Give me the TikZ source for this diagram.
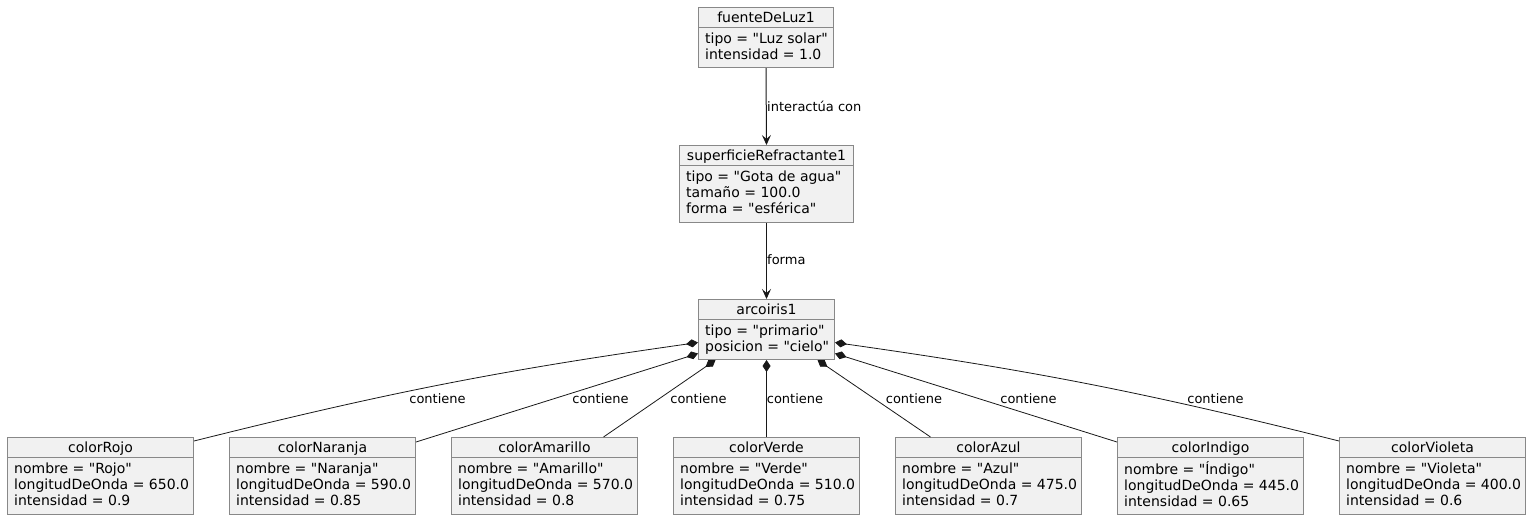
\documentclass[tikz,border=0pt]{standalone}
\usepackage{fontspec}
\setmainfont{DejaVu Sans}[Ligatures=TeXOff]
\usetikzlibrary{arrows.meta}

\definecolor{objfill}{HTML}{F1F1F1}
\definecolor{objborder}{HTML}{888888}
\definecolor{edgecol}{HTML}{181818}

\tikzset{
    objbox/.style={draw=objborder, fill=objfill, line width=1pt, rectangle, inner sep=0pt, anchor=north west},
    objrule/.style={draw=objborder, line width=1pt},
    objtitle/.style={anchor=base, inner sep=0pt, font=\fontsize{14}{16}\selectfont},
    objattrs/.style={anchor=north west, inner sep=0pt, align=left, font=\fontsize{14}{16}\selectfont},
    lbl/.style={inner sep=1pt, font=\fontsize{13}{15}\selectfont},
    assoc/.style={draw=edgecol, line width=1pt, -{Stealth[length=10pt,width=9pt,inset=4pt]}},
    comp/.style={draw=edgecol, line width=0.8pt, {Diamond[length=12pt,width=8pt]}-}
}

% name, x, y, width, height, title, attributes
\newcommand{\umlobject}[7]{%
    \node[objbox, minimum width=#4, minimum height=#5] (#1) at (#2,#3) {};
    \draw[objrule] ([yshift=-20]#1.north west) -- ([yshift=-20]#1.north east);
    \node[objtitle] (#1-title) at ([yshift=-15.5]#1.north) {#6};
    \node[objattrs] (#1-attrs) at ([xshift=7,yshift=-24.8]#1.north west) {\strut #7};
}

\begin{document}
\begin{tikzpicture}[x=1pt, y=-1pt]
    \useasboundingbox (0,0) rectangle (1531,520);

    \umlobject{fuente}{698}{7}{135}{60}{fuenteDeLuz1}{tipo = "Luz solar"\\intensidad = 1.0}
    \umlobject{superficie}{679}{145}{174}{77}{superficieRefractante1}{tipo = "Gota de agua"\\tamaño = 100.0\\forma = "esférica"}
    \umlobject{arcoiris}{698}{299}{136}{60}{arcoiris1}{tipo = "primario"\\posicion = "cielo"}

    \umlobject{rojo}{7}{437}{186}{77}{colorRojo}{nombre = "Rojo"\\longitudDeOnda = 650.0\\intensidad = 0.9}
    \umlobject{naranja}{229}{437}{186}{77}{colorNaranja}{nombre = "Naranja"\\longitudDeOnda = 590.0\\intensidad = 0.85}
    \umlobject{amarillo}{451}{437}{186}{77}{colorAmarillo}{nombre = "Amarillo"\\longitudDeOnda = 570.0\\intensidad = 0.8}
    \umlobject{verde}{673}{437}{186}{77}{colorVerde}{nombre = "Verde"\\longitudDeOnda = 510.0\\intensidad = 0.75}
    \umlobject{azul}{895}{437}{186}{77}{colorAzul}{nombre = "Azul"\\longitudDeOnda = 475.0\\intensidad = 0.7}
    \umlobject{indigo}{1117}{437}{186}{77}{colorIndigo}{nombre = "Índigo"\\longitudDeOnda = 445.0\\intensidad = 0.65}
    \umlobject{violeta}{1339}{437}{186}{77}{colorVioleta}{nombre = "Violeta"\\longitudDeOnda = 400.0\\intensidad = 0.6}

    % associations
    \draw[assoc] (fuente.south) -- (superficie.north);
    \node[lbl, anchor=west] (l-interact) at (766,106) {interactúa con};
    \draw[assoc] (superficie.south) -- (arcoiris.north);
    \node[lbl, anchor=west] (l-forma) at (766,260) {forma};

    % compositions
    \draw[comp] ([yshift=-13]arcoiris.west) to[bend right=3] ([yshift=-4]rojo.north east);
    \draw[comp] ([yshift=-24]arcoiris.west) -- ([yshift=-5]naranja.north east);
    \draw[comp] ([xshift=-51]arcoiris.south) -- ([xshift=59]amarillo.north);
    \draw[comp] (arcoiris.south) -- (verde.north);
    \draw[comp] ([xshift=51]arcoiris.south) -- ([xshift=-58]azul.north);
    \draw[comp] ([yshift=-24]arcoiris.east) -- ([yshift=-5]indigo.north west);
    \draw[comp] ([yshift=-13]arcoiris.east) to[bend left=3] ([yshift=-4]violeta.north west);

    \node[lbl] (l-rojo) at (437.5,399) {contiene};
    \node[lbl] (l-naranja) at (600.5,399) {contiene};
    \node[lbl] (l-amarillo) at (698.5,399) {contiene};
    \node[lbl] (l-verde) at (795,399) {contiene};
    \node[lbl] (l-azul) at (914,399) {contiene};
    \node[lbl] (l-indigo) at (1028.5,399) {contiene};
    \node[lbl] (l-violeta) at (1215.5,399) {contiene};
\end{tikzpicture}
\end{document}
